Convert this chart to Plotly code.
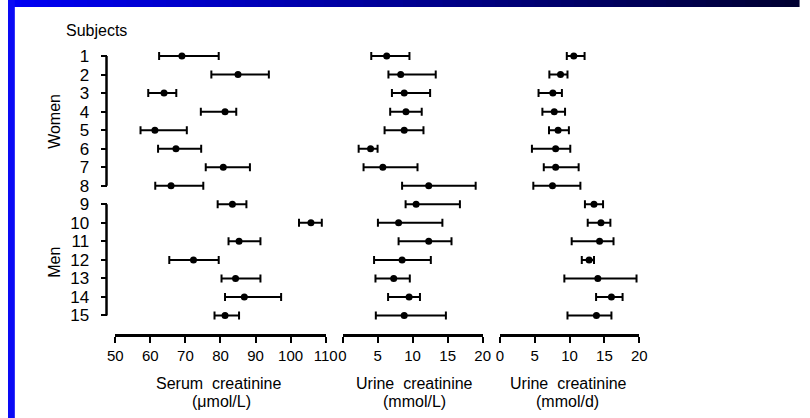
import plotly.graph_objects as go

W, H = 810, 418

subjects = list(range(1, 16))
women = subjects[:8]
men = subjects[8:]

serum_mean = [69.0, 85.0, 63.9, 81.3, 61.3, 67.3, 80.8, 65.9, 83.4, 105.8, 85.3, 72.3, 84.3, 86.8, 81.3]
serum_low = [62.5, 77.4, 59.4, 74.4, 57.2, 62.2, 75.8, 61.4, 79.2, 102.4, 82.3, 65.4, 80.3, 81.3, 78.3]
serum_high = [79.5, 93.8, 67.4, 84.5, 70.4, 74.5, 88.4, 75.1, 87.4, 108.9, 91.4, 79.5, 91.4, 97.3, 85.3]

urL_mean = [6.3, 8.3, 8.8, 9.05, 8.8, 4.0, 5.75, 12.3, 10.5, 8.0, 12.3, 8.5, 7.3, 9.5, 8.8]
urL_low = [4.1, 6.55, 7.05, 6.8, 6.0, 2.3, 3.0, 8.5, 9.0, 5.05, 8.0, 4.5, 4.7, 6.5, 4.75]
urL_high = [9.55, 13.3, 12.5, 11.3, 11.55, 5.0, 10.7, 19.0, 16.75, 14.25, 15.55, 12.6, 9.6, 11.05, 14.75]

urD_mean = [10.6, 8.7, 7.6, 7.8, 8.35, 8.0, 8.0, 7.55, 13.5, 14.5, 14.3, 12.8, 14.05, 16.0, 13.85]
urD_low = [9.6, 7.1, 5.55, 6.1, 7.05, 4.6, 6.3, 4.8, 12.2, 12.6, 10.3, 11.75, 9.25, 13.8, 9.7]
urD_high = [12.15, 9.7, 8.9, 9.35, 9.9, 10.1, 11.3, 11.55, 14.8, 15.85, 16.3, 13.5, 19.6, 17.6, 16.0]

serum_ticks = [50, 60, 70, 80, 90, 100, 110]
urine_ticks = [0, 5, 10, 15, 20]

FONT = "Liberation Sans"

fig = go.Figure()

def add_panel(mean, low, high, xaxis):
    fig.add_trace(go.Scatter(
        x=mean, y=subjects, xaxis=xaxis, yaxis="y", mode="markers",
        marker=dict(color="black", size=7),
        error_x=dict(type="data", symmetric=False,
                     array=[h - m for h, m in zip(high, mean)],
                     arrayminus=[m - l for m, l in zip(mean, low)],
                     color="black", thickness=2, width=4),
        cliponaxis=False, showlegend=False, hoverinfo="skip"))

add_panel(serum_mean, serum_low, serum_high, "x")
add_panel(urL_mean, urL_low, urL_high, "x2")
add_panel(urD_mean, urD_low, urD_high, "x3")

def px_x(p):
    return p / W

def px_y(p):
    return 1 - p / H

y_top, y_bot = 37.5, 334.0
ydom = [px_y(y_bot), px_y(y_top)]

xcommon = dict(showline=True, linecolor="black", linewidth=2.5, ticks="outside",
               ticklen=6, tickwidth=2, tickcolor="black", showgrid=False, zeroline=False,
               anchor="y", tickfont=dict(family=FONT, size=15, color="black"))

fig.update_layout(
    width=W, height=H, margin=dict(l=0, r=0, t=0, b=0),
    paper_bgcolor="white", plot_bgcolor="rgba(0,0,0,0)",
    xaxis=dict(domain=[px_x(110), px_x(325.7)], range=[50, 110], tickvals=serum_ticks, **xcommon),
    xaxis2=dict(domain=[px_x(343), px_x(486.7)], range=[0, 20], tickvals=urine_ticks, **xcommon),
    xaxis3=dict(domain=[px_x(504.3), px_x(647.3)], range=[0, 20], tickvals=urine_ticks, **xcommon),
    yaxis=dict(domain=ydom, range=[16, 0], anchor="free", position=px_x(101),
               tickvals=subjects, ticktext=[str(s) for s in subjects],
               ticks="outside", ticklen=6, tickwidth=2, tickcolor="black",
               showline=False, showgrid=False, zeroline=False, ticklabelstandoff=8,
               tickfont=dict(family=FONT, size=17, color="black")),
)

shapes = []
# broken y axis lines (women / men groups)
for grp in (women, men):
    shapes.append(dict(type="line", xref="paper", yref="y", x0=px_x(101), x1=px_x(101),
                       y0=min(grp), y1=max(grp), line=dict(color="black", width=2.5)))

# blue frame: gradient top band and left strip
N = 60
for i in range(N):
    t = i / (N - 1)
    b = int(245 - t * (245 - 50))
    shapes.append(dict(type="rect", xref="paper", yref="paper", layer="above",
                       x0=i / N, x1=(i + 1) / N + 0.002, y0=px_y(7), y1=1,
                       line=dict(width=0), fillcolor=f"rgb(0,0,{b})"))
shapes.append(dict(type="rect", xref="paper", yref="paper", layer="above",
                   x0=0, x1=px_x(7), y0=0, y1=1, line=dict(width=0), fillcolor="rgb(10,10,245)"))
fig.update_layout(shapes=shapes)

ann_font = dict(family=FONT, size=16, color="black")
annotations = [
    dict(text="Subjects", x=px_x(57), y=px_y(30), xanchor="left", yanchor="middle"),
    dict(text="Women", x=px_x(47), y=px_y(121), xanchor="center", yanchor="middle", textangle=-90),
    dict(text="Men", x=px_x(47), y=px_y(262), xanchor="center", yanchor="middle", textangle=-90),
    dict(text="Serum  creatinine", x=px_x(216), y=px_y(383), xanchor="center", yanchor="middle"),
    dict(text="(μmol/L)", x=px_x(219), y=px_y(401), xanchor="center", yanchor="middle"),
    dict(text="Urine  creatinine", x=px_x(417), y=px_y(383), xanchor="center", yanchor="middle"),
    dict(text="(mmol/L)", x=px_x(417), y=px_y(401), xanchor="center", yanchor="middle"),
    dict(text="Urine  creatinine", x=px_x(575), y=px_y(383), xanchor="center", yanchor="middle"),
    dict(text="(mmol/d)", x=px_x(574), y=px_y(401), xanchor="center", yanchor="middle"),
]
for a in annotations:
    a.update(xref="paper", yref="paper", showarrow=False, font=ann_font)
fig.update_layout(annotations=annotations)

fig.write_html("out.html", config={"displayModeBar": False},
               post_script="document.body.style.margin='0px';")
